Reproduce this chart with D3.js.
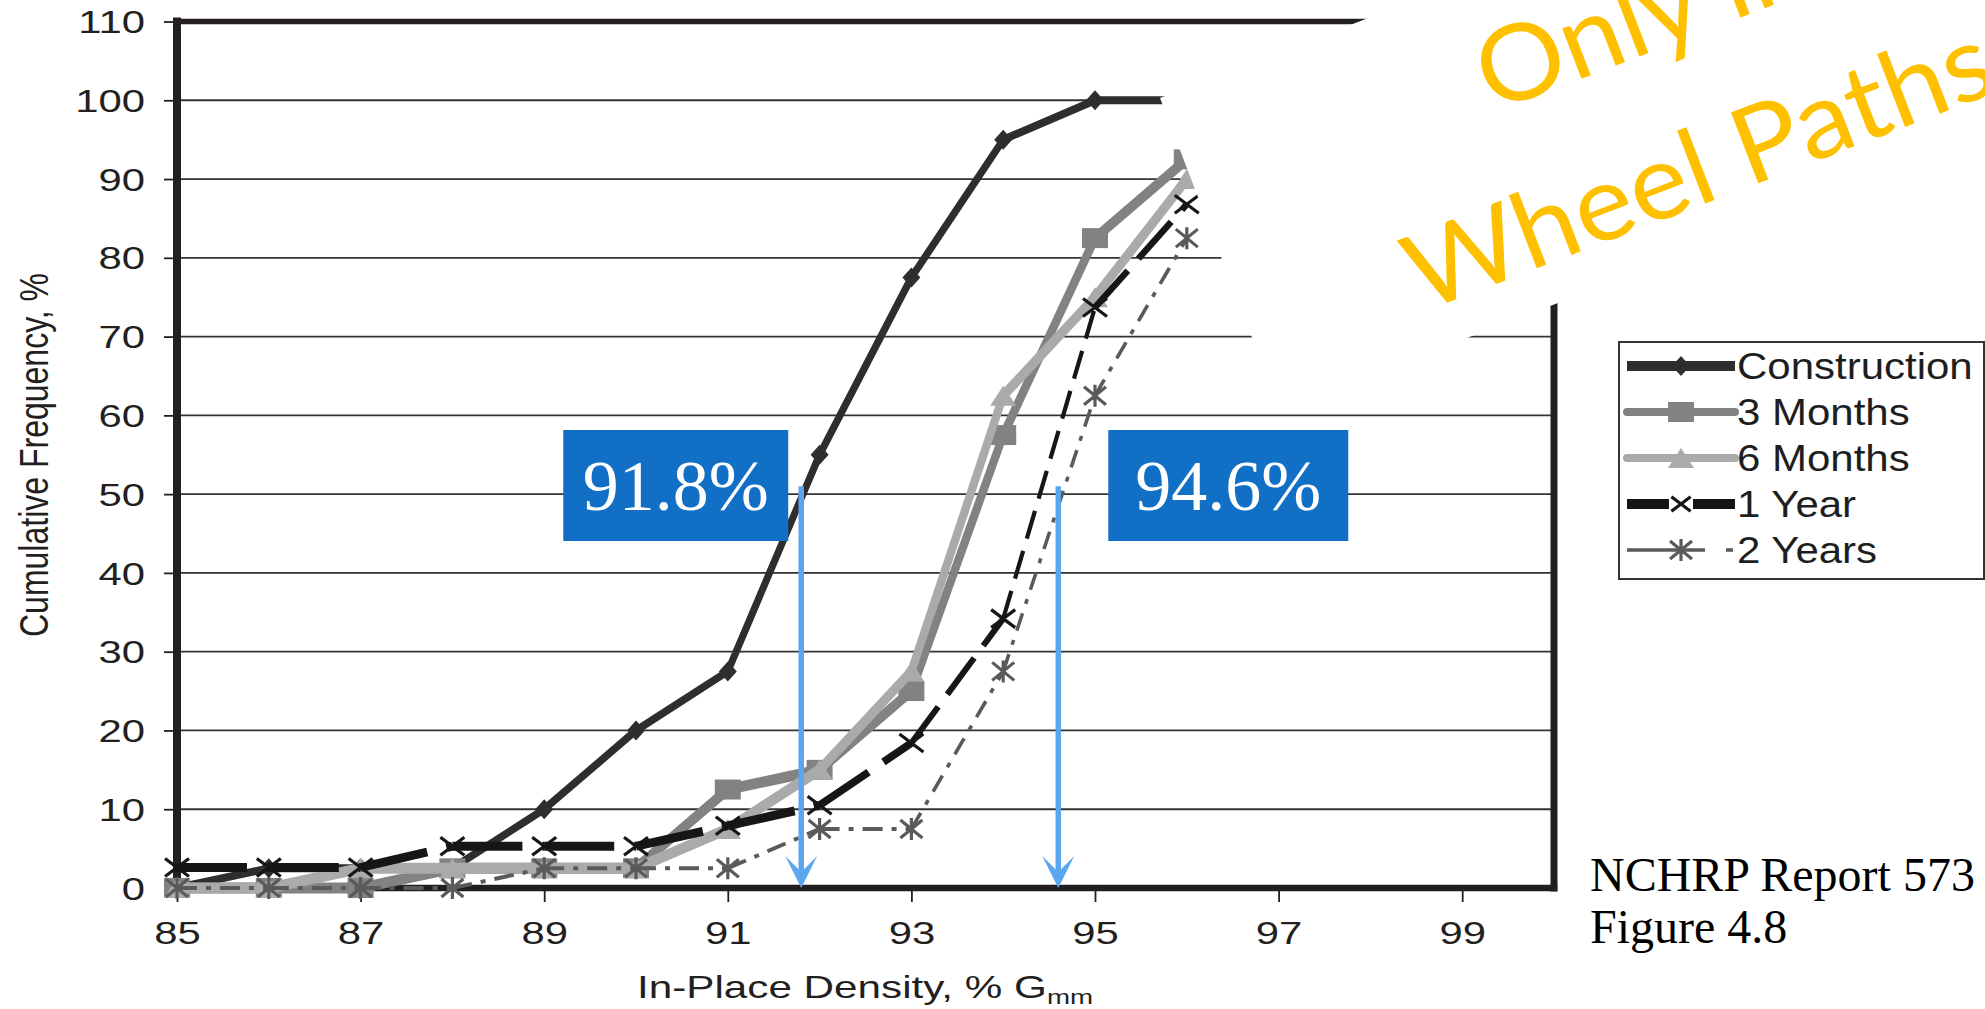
<!DOCTYPE html>
<html>
<head>
<meta charset="utf-8">
<script src="https://cdn.jsdelivr.net/npm/d3@7"></script>
<style>
  html, body { margin: 0; padding: 0; background: #fff; }
  svg { display: block; }
</style>
</head>
<body>
<svg id="chart" width="1985" height="1009"></svg>
<script>
// Cumulative frequency (%) of in-place density (% Gmm) at each survey
const densities    = [85, 86, 87, 88, 89, 90, 91, 92, 93, 94, 95, 96];
const construction = [0, 2.5, 2.5, 2.5, 10, 20, 27.5, 55, 77.5, 95, 100, 100];
const months3      = [0, 0, 0, 2.5, 2.5, 2.5, 12.5, 15, 25, 57.5, 82.5, 92.5];
const months6      = [0, 0, 2.5, 2.5, 2.5, 2.5, 7.5, 15, 27.5, 62.5, 75, 90];
const year1        = [2.6, 2.6, 2.6, 5.3, 5.3, 5.3, 7.9, 10.5, 18.4, 34.2, 73.7, 86.8];
const years2       = [0, 0, 0, 0, 2.5, 2.5, 2.5, 7.5, 7.5, 27.5, 62.5, 82.5];
const seriesNames  = ["Construction", "3 Months", "6 Months", "1 Year", "2 Years"];
const xTickValues  = [85, 87, 89, 91, 93, 95, 97, 99];
const yTickValues  = [0, 10, 20, 30, 40, 50, 60, 70, 80, 90, 100, 110];
const medianDensities = [91.8, 94.6];
const medianLabels    = ["91.8%", "94.6%"];

const seriesValues = [construction, months3, months6, year1, years2];

// Drawing styles: wV = thickness of flat runs, wH = thickness of steep runs
const styles = [
  { color: "#2e2e2e", wV: 8,   wH: 7, dash: null, marker: "diamond", hw: 9,  hh: 10 },
  { color: "#828282", wV: 11,  wH: 8, dash: null, marker: "square",  hw: 13, hh: 10 },
  { color: "#a8aaac", wV: 11,  wH: 8, dash: null, marker: "triangle",hw: 13, hh: 10 },
  { color: "#161616", wV: 9,   wH: 3.5, dash: [[70, 20], [22, 12]], marker: "x", hw: 12, hh: 9 },
  { color: "#5a5a5a", wV: 4,   wH: 3.5, dash: [[20, 9, 5, 9], [18, 10, 5, 10]], marker: "star", hw: 11, hh: 9 }
];

const svg = d3.select("#chart");
const SANS = "'Liberation Sans', Arial, Helvetica, sans-serif";
const SERIF = "'Liberation Serif', 'Times New Roman', serif";
const INK = "#231f20";

const x = d3.scaleLinear().domain([85, 100]).range([177, 1554]);
const y = d3.scaleLinear().domain([0, 110]).range([888, 21.5]);

// Horizontal gridlines
svg.append("g").selectAll("line")
  .data(yTickValues.filter(v => v > 0 && v < 110))
  .join("line")
  .attr("x1", x(85)).attr("x2", x(100))
  .attr("y1", d => y(d)).attr("y2", d => y(d))
  .attr("stroke", "#333").attr("stroke-width", 1.8);

// Axes with tick marks and labels (labels are set wide, as printed)
const TX = 1.35;
const gy = svg.append("g")
  .attr("transform", `translate(${x(85)},0)`)
  .call(d3.axisLeft(y).tickValues(yTickValues).tickSize(13).tickSizeOuter(0));
gy.select(".domain").remove();
gy.selectAll(".tick line").attr("stroke", INK).attr("stroke-width", 1.8);
gy.selectAll(".tick text")
  .attr("x", -32 / TX).attr("dy", "0.36em")
  .attr("transform", `scale(${TX},1)`)
  .attr("fill", INK)
  .style("font-family", SANS).style("font-size", "31px");

const gx = svg.append("g")
  .attr("transform", `translate(0,${y(0)})`)
  .call(d3.axisBottom(x).tickValues(xTickValues).tickSize(14).tickSizeOuter(0));
gx.select(".domain").remove();
gx.selectAll(".tick line").attr("stroke", INK).attr("stroke-width", 1.8);
gx.selectAll(".tick text")
  .attr("y", 56).attr("dy", 0)
  .attr("transform", `scale(${TX},1)`)
  .attr("fill", INK)
  .style("font-family", SANS).style("font-size", "31px");

// Plot frame: heavy left/bottom axes and border
const frame = svg.append("g").attr("stroke", INK).attr("stroke-linecap", "square");
frame.append("line").attr("x1", x(85)).attr("x2", x(85)).attr("y1", y(0)).attr("y2", y(110)).attr("stroke-width", 8);
frame.append("line").attr("x1", x(85)).attr("x2", x(100)).attr("y1", y(0)).attr("y2", y(0)).attr("stroke-width", 6.5);
frame.append("line").attr("x1", x(85)).attr("x2", x(100)).attr("y1", y(110)).attr("y2", y(110)).attr("stroke-width", 5.5);
frame.append("line").attr("x1", x(100)).attr("x2", x(100)).attr("y1", y(0)).attr("y2", y(110)).attr("stroke-width", 7);

// Marker shapes
function markerType(kind, hw, hh) {
  return {
    draw(ctx) {
      if (kind === "diamond") {
        ctx.moveTo(0, -hh); ctx.lineTo(hw, 0); ctx.lineTo(0, hh); ctx.lineTo(-hw, 0); ctx.closePath();
      } else if (kind === "square") {
        ctx.rect(-hw, -hh, 2 * hw, 2 * hh);
      } else if (kind === "triangle") {
        ctx.moveTo(0, -hh); ctx.lineTo(hw, hh); ctx.lineTo(-hw, hh); ctx.closePath();
      } else if (kind === "x") {
        ctx.moveTo(-hw, -hh); ctx.lineTo(hw, hh); ctx.moveTo(hw, -hh); ctx.lineTo(-hw, hh);
      } else if (kind === "star") {
        ctx.moveTo(-hw, -hh); ctx.lineTo(hw, hh); ctx.moveTo(hw, -hh); ctx.lineTo(-hw, hh);
        ctx.moveTo(0, -hh - 2); ctx.lineTo(0, hh + 2);
      }
    }
  };
}
function markerPath(st, scale = 1) {
  return d3.symbol().type(markerType(st.marker, st.hw * scale, st.hh * scale))();
}
function styleMarker(sel, st) {
  if (st.marker === "x" || st.marker === "star") {
    sel.attr("fill", "none").attr("stroke", st.color).attr("stroke-width", 3.2);
  } else {
    sel.attr("fill", st.color).attr("stroke", "none");
  }
}

// Series: each segment's weight follows its direction
seriesValues.forEach((vals, si) => {
  const st = styles[si];
  const pts = densities.map((d, i) => [x(d), y(vals[i])]);
  const g = svg.append("g");
  const segs = d3.pairs(pts);
  g.selectAll("path.seg").data(segs).join("path")
    .attr("class", "seg")
    .attr("d", d => d3.line()(d))
    .attr("fill", "none")
    .attr("stroke", st.color)
    .attr("stroke-linecap", st.dash ? "butt" : "round")
    .each(function (d) {
      const dx = Math.abs(d[1][0] - d[0][0]), dy = Math.abs(d[1][1] - d[0][1]);
      const a = Math.atan2(dy, dx), c = Math.cos(a), s = Math.sin(a);
      d3.select(this).attr("stroke-width", Math.hypot(st.wV * c, st.wH * s));
      if (st.dash) {
        const pat = st.dash[0].map((v, k) => Math.hypot(v * c, st.dash[1][k] * s).toFixed(1));
        d3.select(this).attr("stroke-dasharray", pat.join(","));
      }
    });
  g.selectAll("path.mk").data(pts).join("path")
    .attr("class", "mk")
    .attr("transform", d => `translate(${d[0]},${d[1]})`)
    .attr("d", markerPath(st))
    .call(styleMarker, st);
});

// Overlay note (white text box, rotated)
const note = svg.append("g").attr("transform", "translate(1160,98) rotate(-21)");
note.append("rect").attr("x", 0).attr("y", 0).attr("width", 1000).attr("height", 334).attr("fill", "#fff");
const noteText = note.append("g")
  .attr("fill", "#ffc000")
  .attr("text-anchor", "middle")
  .style("font-family", "Lato, 'Open Sans', sans-serif")
  .style("font-size", "106px");
noteText.append("text").attr("x", 478).attr("y", 133)
  .attr("textLength", 345).attr("lengthAdjust", "spacingAndGlyphs").text("Only in");
noteText.append("text").attr("x", 478).attr("y", 294)
  .attr("textLength", 620).attr("lengthAdjust", "spacingAndGlyphs").text("Wheel Paths");

// Median density call-outs with arrows down to the axis
const arrowTop = y(51);
medianDensities.forEach((v, i) => {
  const ax = x(v);
  const g = svg.append("g");
  g.append("line").attr("x1", ax).attr("x2", ax).attr("y1", arrowTop).attr("y2", y(0) - 16)
    .attr("stroke", "#5ba7ef").attr("stroke-width", 5.5);
  g.append("path")
    .attr("d", `M${ax},${y(0)} L${ax - 16},${y(0) - 32} L${ax},${y(0) - 16} L${ax + 16},${y(0) - 32} Z`)
    .attr("fill", "#5ba7ef");
  const bw = i === 0 ? 225 : 240;
  const bx = i === 0 ? ax - 13 - bw : ax + 50;
  g.append("rect").attr("x", bx).attr("y", 430).attr("width", bw).attr("height", 111).attr("fill", "#1170c5");
  g.append("text").attr("x", bx + bw / 2).attr("y", 510)
    .attr("text-anchor", "middle").attr("fill", "#fff")
    .style("font-family", SERIF).style("font-size", "72px")
    .text(medianLabels[i]);
});

// Axis titles
svg.append("text")
  .attr("transform", "translate(48,455) rotate(-90) scale(1,1.25)")
  .attr("text-anchor", "middle").attr("fill", INK)
  .style("font-family", SANS).style("font-size", "32px")
  .text("Cumulative Frequency, %");

const xt = svg.append("text")
  .attr("transform", "translate(865,998) scale(1.32,1)")
  .attr("text-anchor", "middle").attr("fill", INK)
  .style("font-family", SANS).style("font-size", "32px");
xt.append("tspan").text("In-Place Density, % G");
xt.append("tspan").attr("dy", 6).style("font-size", "21px").text("mm");

// Legend
const legend = svg.append("g");
legend.append("rect").attr("x", 1619).attr("y", 342).attr("width", 365).attr("height", 237)
  .attr("fill", "#fff").attr("stroke", "#333").attr("stroke-width", 2);
const lineW = [10, 8, 8, 10, 3.5];
seriesNames.forEach((name, i) => {
  const st = styles[i];
  const ry = 366 + i * 46;
  const row = legend.append("g");
  const ln = row.append("line").attr("x1", 1627).attr("x2", 1735).attr("y1", ry).attr("y2", ry)
    .attr("stroke", st.color).attr("stroke-width", lineW[i])
    .attr("stroke-linecap", i === 1 || i === 2 ? "round" : "butt");
  if (i === 4) ln.attr("stroke-dasharray", "78,21,7,200");
  if (i === 3) {
    row.append("rect").attr("x", 1669).attr("y", ry - 9).attr("width", 24).attr("height", 18).attr("fill", "#fff");
  }
  row.append("path").attr("transform", `translate(1681,${ry})`)
    .attr("d", markerPath(st, i === 3 ? 0.8 : 1))
    .call(styleMarker, st);
  row.append("text").attr("transform", `translate(1737,${ry + 13}) scale(1.12,1)`)
    .attr("fill", "#1e1e1e")
    .style("font-family", SANS).style("font-size", "37.5px")
    .text(name);
});

// Source note
const src = svg.append("text").attr("fill", "#000")
  .style("font-family", SERIF).style("font-size", "48px");
src.append("tspan").attr("x", 1590).attr("y", 891).text("NCHRP Report 573");
src.append("tspan").attr("x", 1590).attr("y", 943).text("Figure 4.8");
</script>
</body>
</html>
